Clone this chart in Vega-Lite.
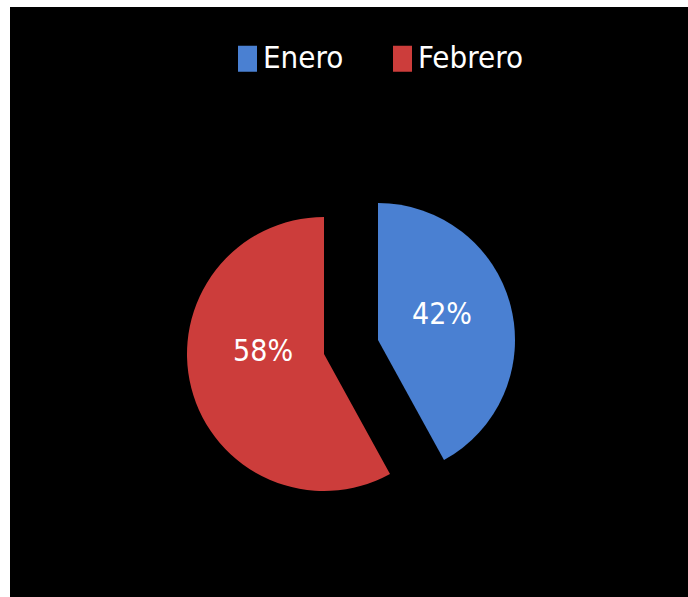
{
  "$schema": "https://vega.github.io/schema/vega-lite/v6.json",
  "width": 688,
  "height": 597,
  "autosize": {"type": "fit", "contains": "padding"},
  "padding": {"left": 10, "top": 7, "right": 0, "bottom": 0},
  "background": "white",
  "view": {"fill": "black", "stroke": null},
  "data": {"values": [
    {"mes": "Enero", "valor": 0.42},
    {"mes": "Febrero", "valor": 0.58}
  ]},
  "encoding": {
    "theta": {"field": "valor", "type": "quantitative", "stack": true},
    "order": {"field": "mes", "sort": "ascending"},
    "color": {
      "field": "mes", "type": "nominal",
      "scale": {"domain": ["Enero", "Febrero"], "range": ["#4a80d2", "#cc3d3b"]},
      "legend": {
        "title": null, "orient": "none", "direction": "horizontal",
        "legendX": 222, "legendY": 36, "padding": 0,
        "symbolType": "M-0.73,-1H0.73V1H-0.73Z", "symbolSize": 676,
        "symbolStrokeWidth": 0, "symbolOpacity": 1,
        "labelColor": "white", "labelFont": "DejaVu Sans Condensed, sans-serif",
        "labelFontSize": 31, "labelOffset": 0, "columnPadding": 43, "labelLimit": 0
      }
    }
  },
  "layer": [
    {
      "mark": {
        "type": "arc", "outerRadius": 137, "stroke": null,
        "xOffset": {"expr": "datum.mes === 'Enero' ? 29 : -25"},
        "yOffset": {"expr": "datum.mes === 'Enero' ? 38 : 52"}
      }
    },
    {
      "mark": {
        "type": "text", "radius": 65, "color": "white",
        "font": "DejaVu Sans Condensed, sans-serif",
        "fontSize": 30, "align": "center", "baseline": "middle",
        "xOffset": {"expr": "datum.mes === 'Enero' ? 30 : -23"},
        "yOffset": {"expr": "datum.mes === 'Enero' ? 29 : 34"}
      },
      "encoding": {
        "text": {"field": "valor", "type": "quantitative", "format": ".0%"},
        "color": {"value": "white"}
      }
    }
  ]
}
